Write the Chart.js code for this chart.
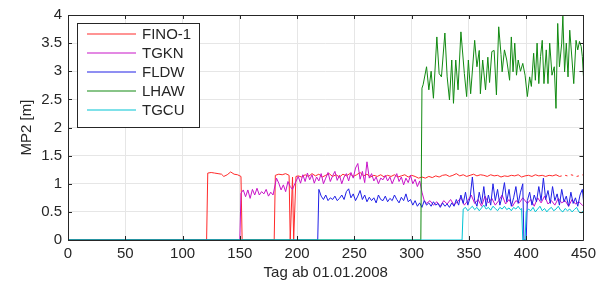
<!DOCTYPE html>
<html><head><meta charset="utf-8">
<script src="https://cdn.jsdelivr.net/npm/chart.js@4/dist/chart.umd.min.js"></script>
<style>html,body{margin:0;padding:0;background:#fff;}#wrap{width:601px;height:286px;}</style>
</head><body><div id="wrap"><canvas id="c" width="601" height="286"></canvas></div>
<script>
const xTicks = [0,50,100,150,200,250,300,350,400,450];
const yTicks = [0,0.5,1,1.5,2,2.5,3,3.5,4];
const xTitle = 'Tag ab 01.01.2008';
const yTitle = 'MP2 [m]';
const seriesNames = ['FINO-1','TGKN','FLDW','LHAW','TGCU'];

const finoDays = [0,121,122,125,128,131,134,136,139,142,145,148,151,152,180,181,184,187,190,193,194,196,197,199,201,204,207,210,213,216,219,222,225,228,231,234,237,240,243,246,249,252,255,258,261,264,267,270,273,276,279,282,285,288,291,294,297,300,303,306,309,312,315,318,321,324,327,330,333,336,339,342,345,348,351,354,357,360,363,366,369,372,375,378,381,384,387,390,393,396,399,402,405,408,411,414,417,420,423,426,429,431,432,434,436,437,439,441,442,444,446,447,449,450];
const finoVals = [0,0,1.19,1.2,1.19,1.18,1.17,1.13,1.16,1.21,1.17,1.16,1.13,0,0,1.15,1.17,1.16,1.18,1.15,0,1.12,0,1.13,1.14,1.12,1.16,1.13,1.18,1.14,1.17,1.12,1.15,1.18,1.13,1.16,1.12,1.17,1.14,1.18,1.13,1.16,1.2,1.14,1.17,1.12,1.15,1.13,1.16,1.12,1.15,1.13,1.16,1.12,1.14,1.16,1.12,1.15,1.13,1.1,1.12,1.1,1.13,1.11,1.14,1.12,1.15,1.16,1.13,1.15,1.18,1.14,1.16,1.13,1.15,1.17,1.14,1.16,1.15,1.13,1.16,1.14,1.15,1.12,1.14,1.13,1.15,1.14,1.16,1.12,1.14,1.15,1.13,1.16,1.14,1.15,1.13,1.15,1.14,1.16,1.13,1.14,null,1.15,1.14,null,1.16,1.15,null,1.13,1.14,null,1.16,1.14];

const tgknDays = [0,150,151,153,155,157,159,161,163,165,167,169,171,173,175,177,179,182,184,186,188,190,192,194,196,198,201,203,205,207,209,211,213,215,217,219,221,223,225,227,229,231,233,235,237,239,241,243,245,247,249,251,253,255,257,259,261,263,265,267,269,271,273,275,277,279,281,283,285,287,289,291,293,295,297,299,301,303,305,307,309,311,313,316,319,322,325,328,331,334,337,340,343,346,349,352,355,358,361,364,367,370,373,376,379,382,385,388,391,394,397,401,404,407,410,413,416,419,422,425,428,431,434,437,440,443,446,449,450];
const tgknVals = [0,0,0.83,0.89,0.77,0.89,0.74,0.9,0.8,0.92,0.8,0.86,0.82,0.9,0.78,0.85,0.8,1.1,1.01,0.89,0.98,0.86,1.04,0.95,0.9,1.0,1.13,1.01,1.16,1.04,1.19,1.07,1.16,1.01,1.12,1.05,1.18,1.0,1.1,1.2,1.04,1.14,1.22,1.06,1.15,1.0,1.12,1.18,1.05,1.2,1.1,1.28,1.36,1.08,1.22,1.02,1.39,1.1,1.18,1.05,1.12,1.0,1.1,1.07,1.15,1.05,1.12,1.0,1.1,1.18,1.04,1.12,0.98,1.1,1.02,1.15,1.0,1.08,0.95,1.05,0.85,0.7,0.65,0.7,0.62,0.68,0.6,0.7,0.64,0.72,0.62,0.68,0.75,0.62,0.7,0.8,0.65,0.72,0.6,0.78,0.66,0.74,0.62,0.7,0.8,0.64,0.72,0.6,0.7,0.66,0.75,0.65,0.72,0.6,0.75,0.66,0.78,0.64,0.7,0.62,0.74,0.66,0.7,0.6,0.72,0.64,0.68,0.62,0.6];

const fldwDays = [0,218,219,221,223,225,227,229,231,233,235,237,239,241,243,245,247,249,251,253,255,257,259,261,263,265,267,269,271,273,275,277,279,281,283,285,287,289,291,293,295,297,299,301,303,305,307,309,311,313,315,317,319,321,323,325,327,329,331,333,335,337,339,341,343,345,347,349,351,353,355,357,359,361,363,365,367,369,371,373,375,377,379,381,383,385,387,389,391,393,395,397,398,400,401,403,405,407,409,411,413,415,417,419,421,423,425,427,429,431,433,435,437,439,441,443,445,447,449,450];
const fldwVals = [0,0,0.9,0.78,0.72,0.8,0.7,0.75,0.72,0.78,0.7,0.74,0.8,0.72,0.86,0.91,0.75,0.82,0.7,0.78,0.88,0.72,0.8,0.68,0.76,0.7,0.75,0.66,0.8,0.72,0.7,0.78,0.68,0.74,0.7,0.8,0.72,0.66,0.76,0.7,0.82,0.68,0.72,0.62,0.7,0.6,0.66,0.58,0.7,0.62,0.66,0.6,0.68,0.62,0.65,0.58,0.66,0.6,0.64,0.58,0.66,0.6,0.72,0.62,0.8,0.65,0.85,0.62,0.75,1.12,0.7,0.6,0.85,0.65,0.95,0.6,0.8,0.62,1.0,0.7,0.9,0.62,0.78,1.02,0.68,0.9,0.6,0.75,0.95,0.65,0.85,1.0,0,0,0.7,0.85,0.62,0.8,0.68,0.95,0.7,1.1,0.72,0.88,0.65,0.95,0.7,0.82,0.62,0.9,0.68,0.78,0.6,0.85,0.65,0.75,0.6,0.8,0.9,0.7];

const lhawDays = [0,308,309,310,313,315,317,319,322,324,326,329,331,333,335,336.5,338.5,340.5,343,346,348,349.5,351.5,355,357,359,360,362,364.5,366.5,368,370,372,374,376,378,379,381,383,385.5,387,388.5,390,391.5,393,395,397,399,401,403,404.5,406.5,408,409.5,411,412.5,414,415.5,417.5,419,420.5,422.5,424.5,426,427.5,429,431,432,433.5,435,436.5,438,440,441.5,443.5,445,446.5,448,449,450];
const lhawVals = [0,0,2.7,2.76,3.08,2.67,3.0,2.52,3.61,2.96,2.9,3.68,2.9,2.49,3.2,2.43,3.2,2.67,3.7,2.96,2.55,3.2,2.6,3.55,3.08,3.37,2.6,3.2,2.67,3.25,2.8,3.35,3.37,2.58,3.79,3.3,2.99,3.38,3.2,2.84,3.61,2.99,3.5,2.93,3.2,3.0,3.14,2.93,2.55,2.9,2.73,3.32,2.84,3.5,2.78,3.26,3.55,2.78,3.38,2.78,3.5,2.93,3.08,2.34,3.85,3.08,3.5,3.98,2.99,3.5,2.9,3.73,3.2,2.78,3.55,3.38,3.53,3.44,3.26,2.9];

const tgcuDays = [0,344,345,347,349,351,353,355,357,359,361,363,365,367,369,371,373,375,377,379,381,383,385,387,389,391,393,395,396,397,399,400,402,404,406,408,410,412,414,416,418,420,422,424,426,428,430,432,434,436,438,440,442,444,446,448,450];
const tgcuVals = [0,0,0.55,0.58,0.52,0.56,0.6,0.54,0.58,0.52,0.57,0.62,0.55,0.58,0.53,0.6,0.56,0.52,0.58,0.55,0.6,0.54,0.57,0.52,0.58,0.55,0.6,0.54,0.56,0,0,0.5,0.55,0.52,0.58,0.5,0.55,0.6,0.52,0.56,0.5,0.55,0.58,0.52,0.55,0.6,0.53,0.5,0.56,0.52,0.55,0.5,0.54,0.58,0.5,0.48,0.52];

const seriesColors = ['#ff2a2a','#c814c8','#2020e6','#128a12','#00c4d4'];
const allDays = [finoDays,tgknDays,fldwDays,lhawDays,tgcuDays];
const allVals = [finoVals,tgknVals,fldwVals,lhawVals,tgcuVals];

const FONT = "'Liberation Sans', Arial, sans-serif";
const TXT = '#262626';

const datasets = seriesNames.map((name,i)=>({
  label: name,
  data: allDays[i].map((d,j)=>({x:d,y:allVals[i][j]})),
  borderColor: seriesColors[i],
  backgroundColor: seriesColors[i],
  borderWidth: 1,
  pointRadius: 0,
  tension: 0,
  spanGaps: false,
  order: 4 - i
}));

const framePlugin = {
  id: 'frame',
  afterDatasetsDraw(chart) {
    const {ctx, chartArea: a, scales} = chart;
    const al = v => Math.round(v) + 0.5;
    ctx.save();
    ctx.strokeStyle = TXT;
    ctx.lineWidth = 1;
    ctx.beginPath();
    ctx.rect(al(a.left), al(a.top), Math.round(a.right) - Math.round(a.left), Math.round(a.bottom) - Math.round(a.top));
    ctx.stroke();
    const tl = 4;
    ctx.beginPath();
    xTicks.forEach(t => {
      const px = al(scales.x.getPixelForValue(t));
      ctx.moveTo(px, a.bottom); ctx.lineTo(px, a.bottom - tl);
      ctx.moveTo(px, a.top); ctx.lineTo(px, a.top + tl);
    });
    yTicks.forEach(t => {
      const py = al(scales.y.getPixelForValue(t));
      ctx.moveTo(a.left, py); ctx.lineTo(a.left + tl, py);
      ctx.moveTo(a.right, py); ctx.lineTo(a.right - tl, py);
    });
    ctx.stroke();
    // legend box
    const lx = Math.round(a.left) + 9, ly = Math.round(a.top) + 8;
    const lw = 122, lh = 104, rowH = 18.9;
    ctx.fillStyle = '#ffffff';
    ctx.fillRect(lx, ly, lw, lh);
    ctx.strokeStyle = TXT;
    ctx.lineWidth = 1;
    ctx.strokeRect(lx + 0.5, ly + 0.5, lw, lh);
    ctx.font = '15px ' + FONT;
    ctx.textBaseline = 'middle';
    ctx.textAlign = 'left';
    for (let i = 0; i < seriesNames.length; i++) {
      const y = Math.round(ly + 11.3 + i * rowH);
      ctx.beginPath();
      ctx.strokeStyle = seriesColors[i];
      ctx.lineWidth = 1.2;
      ctx.moveTo(lx + 10, y);
      ctx.lineTo(lx + 59, y);
      ctx.stroke();
      ctx.fillStyle = TXT;
      ctx.fillText(seriesNames[i], lx + 65, y + 1);
    }
    ctx.restore();
  }
};

new Chart(document.getElementById('c'), {
  type: 'line',
  data: { datasets },
  options: {
    responsive: false,
    animation: false,
    devicePixelRatio: 1,
    layout: { padding: { left: 0, right: 14, top: 15, bottom: 0 } },
    plugins: { legend: { display: false }, tooltip: { enabled: false } },
    scales: {
      x: {
        type: 'linear', min: 0, max: 450,
        afterBuildTicks: s => { s.ticks = xTicks.map(v => ({value: v})); },
        afterFit: s => { s.height = 46; },
        ticks: { font: { family: FONT, size: 15 }, color: TXT, padding: 5, maxRotation: 0 },
        grid: { color: '#e6e6e6', drawTicks: false },
        border: { display: false },
        title: { display: true, text: xTitle, font: { family: FONT, size: 15 }, color: TXT, padding: { top: 0, bottom: 4 } }
      },
      y: {
        type: 'linear', min: 0, max: 4,
        afterBuildTicks: s => { s.ticks = yTicks.map(v => ({value: v})); },
        afterFit: s => { s.width = 68; },
        ticks: { font: { family: FONT, size: 15 }, color: TXT, padding: 6, callback: v => String(v) },
        grid: { color: '#e6e6e6', drawTicks: false },
        border: { display: false },
        title: { display: true, text: yTitle, font: { family: FONT, size: 15 }, color: TXT, padding: { top: 18, bottom: 0 } }
      }
    }
  },
  plugins: [framePlugin]
});
</script>
</body></html>
